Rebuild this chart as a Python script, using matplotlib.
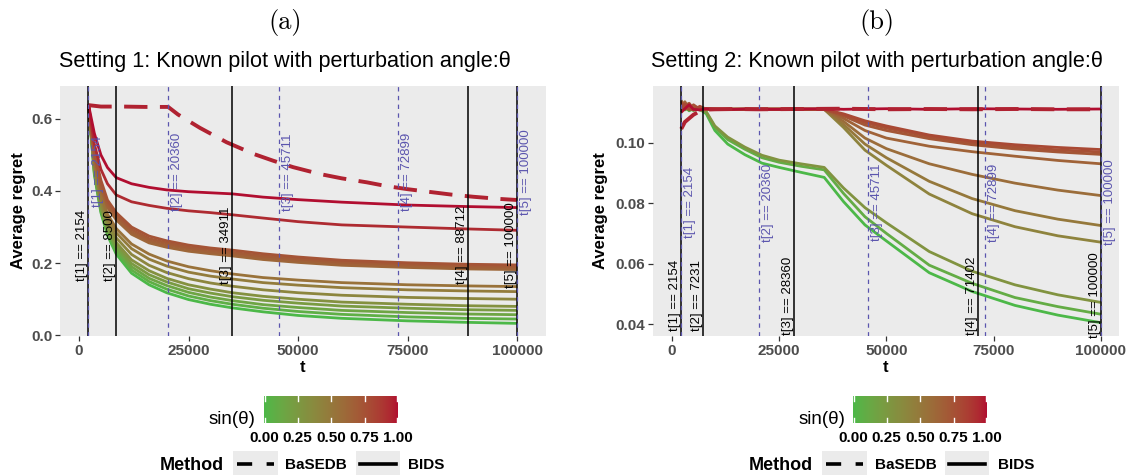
import numpy as np
import matplotlib
matplotlib.use("Agg")
import matplotlib.pyplot as plt
from matplotlib.colors import ListedColormap, to_rgb
from matplotlib.lines import Line2D
from matplotlib.patches import Rectangle

plt.rcParams['font.family'] = ['Liberation Sans', 'DejaVu Sans']

# ---------------- data ----------------
T_A = [2154, 3500, 5000, 6500, 8500, 12000, 16000, 20000, 25000, 30000, 35000,
       42000, 50000, 60000, 75000, 88000, 100000]
SIN_A = [0.00, 0.08, 0.16, 0.24, 0.32, 0.40, 0.48, 0.55, 0.62, 0.66, 0.70, 0.74, 0.93, 1.00]
BIDS_A = [
    [0.640, 0.445, 0.340, 0.277, 0.225, 0.172, 0.140, 0.118, 0.099, 0.086, 0.076, 0.065, 0.055, 0.047, 0.040, 0.036, 0.033],
    [0.640, 0.450, 0.345, 0.283, 0.233, 0.181, 0.149, 0.128, 0.109, 0.096, 0.086, 0.075, 0.066, 0.058, 0.051, 0.047, 0.045],
    [0.640, 0.455, 0.350, 0.290, 0.241, 0.190, 0.158, 0.138, 0.119, 0.106, 0.096, 0.085, 0.077, 0.069, 0.063, 0.059, 0.057],
    [0.640, 0.460, 0.355, 0.297, 0.249, 0.199, 0.168, 0.148, 0.129, 0.117, 0.107, 0.097, 0.089, 0.081, 0.075, 0.071, 0.069],
    [0.640, 0.465, 0.360, 0.304, 0.257, 0.209, 0.179, 0.158, 0.140, 0.128, 0.118, 0.108, 0.100, 0.092, 0.086, 0.082, 0.080],
    [0.640, 0.470, 0.370, 0.314, 0.270, 0.224, 0.194, 0.174, 0.157, 0.145, 0.136, 0.126, 0.118, 0.111, 0.105, 0.102, 0.100],
    [0.640, 0.475, 0.380, 0.325, 0.284, 0.240, 0.211, 0.192, 0.175, 0.164, 0.156, 0.146, 0.139, 0.132, 0.126, 0.123, 0.121],
    [0.640, 0.480, 0.390, 0.336, 0.296, 0.253, 0.225, 0.206, 0.190, 0.179, 0.170, 0.160, 0.153, 0.146, 0.140, 0.137, 0.135],
    [0.640, 0.495, 0.405, 0.354, 0.320, 0.280, 0.256, 0.244, 0.233, 0.226, 0.220, 0.210, 0.202, 0.194, 0.188, 0.184, 0.182],
    [0.640, 0.500, 0.412, 0.360, 0.326, 0.286, 0.262, 0.250, 0.239, 0.231, 0.225, 0.215, 0.207, 0.198, 0.192, 0.188, 0.186],
    [0.640, 0.505, 0.420, 0.368, 0.333, 0.293, 0.268, 0.256, 0.244, 0.237, 0.230, 0.220, 0.212, 0.203, 0.197, 0.193, 0.191],
    [0.640, 0.510, 0.430, 0.375, 0.340, 0.300, 0.275, 0.262, 0.250, 0.242, 0.236, 0.226, 0.217, 0.208, 0.201, 0.197, 0.195],
    [0.640, 0.530, 0.460, 0.420, 0.389, 0.370, 0.360, 0.352, 0.345, 0.340, 0.334, 0.325, 0.315, 0.306, 0.300, 0.295, 0.291],
    [0.640, 0.560, 0.500, 0.465, 0.437, 0.420, 0.410, 0.403, 0.398, 0.395, 0.392, 0.383, 0.376, 0.369, 0.361, 0.357, 0.354],
]
T_A_DASH = [2154, 5000, 10000, 15000, 20360, 22600, 27600, 33700, 39800, 44300, 48900,
            55000, 60000, 65700, 70000, 75000, 81000, 85000, 90000, 96000, 100000]
BASEDB_A = [0.638, 0.634, 0.634, 0.633, 0.633, 0.612, 0.575, 0.535, 0.503, 0.484, 0.466,
            0.447, 0.435, 0.424, 0.414, 0.405, 0.396, 0.390, 0.384, 0.378, 0.375]
SIN_A_DASH = 0.96

T_B = [2154, 3000, 4000, 5000, 6500, 8000, 10000, 13000, 17000, 21000, 25000, 30000,
       35500, 40000, 45000, 50000, 60000, 70000, 80000, 90000, 100000]
SIN_B = [0.00, 0.10, 0.30, 0.42, 0.50, 0.58, 0.65, 0.72, 0.76, 0.80, 1.00]
BIDS_B = [
    [0.1110, 0.1118, 0.1105, 0.1112, 0.1110, 0.1095, 0.1040, 0.0995, 0.0960, 0.0932, 0.0918, 0.0902, 0.0885, 0.0805, 0.0728, 0.0675, 0.0570, 0.0508, 0.0462, 0.0430, 0.0405],
    [0.1125, 0.1108, 0.1115, 0.1106, 0.1112, 0.1100, 0.1050, 0.1010, 0.0978, 0.0950, 0.0935, 0.0922, 0.0910, 0.0832, 0.0755, 0.0700, 0.0595, 0.0535, 0.0488, 0.0458, 0.0433],
    [0.1105, 0.1120, 0.1110, 0.1114, 0.1108, 0.1102, 0.1055, 0.1018, 0.0985, 0.0958, 0.0942, 0.0930, 0.0918, 0.0850, 0.0785, 0.0735, 0.0640, 0.0575, 0.0530, 0.0497, 0.0472],
    [0.1130, 0.1112, 0.1120, 0.1108, 0.1112, 0.1110, 0.1111, 0.1109, 0.1110, 0.1111, 0.1110, 0.1110, 0.1110, 0.1050, 0.0975, 0.0925, 0.0830, 0.0765, 0.0722, 0.0692, 0.0671],
    [0.1115, 0.1125, 0.1108, 0.1115, 0.1110, 0.1112, 0.1110, 0.1110, 0.1111, 0.1109, 0.1110, 0.1111, 0.1110, 0.1060, 0.0995, 0.0950, 0.0872, 0.0815, 0.0775, 0.0747, 0.0726],
    [0.1140, 0.1110, 0.1118, 0.1112, 0.1108, 0.1111, 0.1110, 0.1111, 0.1110, 0.1110, 0.1111, 0.1110, 0.1110, 0.1070, 0.1015, 0.0980, 0.0930, 0.0895, 0.0866, 0.0843, 0.0825],
    [0.1120, 0.1135, 0.1112, 0.1110, 0.1114, 0.1110, 0.1111, 0.1110, 0.1109, 0.1111, 0.1110, 0.1110, 0.1110, 0.1080, 0.1040, 0.1015, 0.0988, 0.0970, 0.0955, 0.0941, 0.0930],
    [0.1110, 0.1122, 0.1130, 0.1112, 0.1110, 0.1112, 0.1110, 0.1110, 0.1111, 0.1110, 0.1110, 0.1111, 0.1110, 0.1088, 0.1058, 0.1040, 0.1013, 0.0993, 0.0979, 0.0969, 0.0961],
    [0.1135, 0.1115, 0.1110, 0.1125, 0.1110, 0.1111, 0.1110, 0.1111, 0.1110, 0.1110, 0.1111, 0.1110, 0.1110, 0.1092, 0.1066, 0.1048, 0.1020, 0.0999, 0.0986, 0.0976, 0.0969],
    [0.1118, 0.1128, 0.1112, 0.1108, 0.1120, 0.1110, 0.1111, 0.1110, 0.1110, 0.1111, 0.1110, 0.1110, 0.1110, 0.1095, 0.1072, 0.1055, 0.1025, 0.1005, 0.0993, 0.0984, 0.0977],
    [0.1100, 0.1112, 0.1125, 0.1110, 0.1108, 0.1112, 0.1110, 0.1109, 0.1111, 0.1110, 0.1110, 0.1111, 0.1112, 0.1110, 0.1111, 0.1112, 0.1110, 0.1112, 0.1111, 0.1110, 0.1111],
]
T_B_DASH = [2154, 3000, 4000, 5000, 6000, 7000, 8000, 10000, 15000, 20000, 30000,
            40000, 50000, 60000, 70000, 80000, 90000, 100000]
BASEDB_B = [0.1045, 0.1068, 0.1080, 0.1092, 0.1100, 0.1106, 0.1109, 0.1110, 0.1111, 0.1110, 0.1111,
            0.1112, 0.1110, 0.1111, 0.1110, 0.1111, 0.1110, 0.1110]
SIN_B_DASH = 0.96

BIDS_T_A = [2154, 8500, 34911, 88712, 100000]
BASEDB_T_A = [2154, 20360, 45711, 72899, 100000]
BIDS_T_B = [2154, 7231, 28360, 71402, 100000]
BASEDB_T_B = [2154, 20360, 45711, 72899, 100000]

TITLES = ["Setting 1: Known pilot with perturbation angle:\u03b8",
          "Setting 2: Known pilot with perturbation angle:\u03b8"]
PANEL_TAGS = ["(a)", "(b)"]
XTICKS = [0, 25000, 50000, 75000, 100000]
YTICKS_A = [0.0, 0.2, 0.4, 0.6]
YTICKS_B = [0.04, 0.06, 0.08, 0.10]
CB_TICKS = [0.0, 0.25, 0.5, 0.75, 1.0]

# ---------------- colour scale (Lab interpolation like ggplot) ----------------
_M = np.array([[0.4124, 0.3576, 0.1805], [0.2126, 0.7152, 0.0722], [0.0193, 0.1192, 0.9505]])
_W = _M @ np.ones(3)

def _lin(c):
    c = np.asarray(c, float)
    return np.where(c <= 0.04045, c / 12.92, ((c + 0.055) / 1.055) ** 2.4)

def _delin(c):
    c = np.clip(c, 0, None)
    return np.where(c <= 0.0031308, 12.92 * c, 1.055 * c ** (1 / 2.4) - 0.055)

def _f(t):
    d = 6 / 29
    return np.where(t > d ** 3, np.cbrt(t), t / (3 * d * d) + 4 / 29)

def _finv(t):
    d = 6 / 29
    return np.where(t > d, t ** 3, 3 * d * d * (t - 4 / 29))

def rgb2lab(rgb):
    fx_, fy_, fz_ = _f((_M @ _lin(rgb)) / _W)
    return np.array([116 * fy_ - 16, 500 * (fx_ - fy_), 200 * (fy_ - fz_)])

def lab2rgb(lab):
    L, a, b = lab
    fy_ = (L + 16) / 116
    xyz = _W * _finv(np.array([fy_ + a / 500, fy_, fy_ - b / 200]))
    return np.clip(_delin(np.linalg.solve(_M, xyz)), 0, 1)

LOW, HIGH = rgb2lab(to_rgb('#4CB848')), rgb2lab(to_rgb('#B10E30'))
cmap = ListedColormap([lab2rgb((1 - s) * LOW + s * HIGH) for s in np.linspace(0, 1, 256)])

# ---------------- figure ----------------
W, H = 1130, 475
fig = plt.figure(figsize=(W / 100, H / 100), dpi=100)

def fx(x):
    return x / W

def fy(y):
    return 1 - y / H

BLUE = '#5B55AE'
TICK_GRAY = '#4D4D4D'

def make_panel(x0, x1, xlim, ylim, yticks, yfmt, T, sins, curves, Td, dvals, dsin,
               bids_t, base_t, ylab_black, ylab_blue, title, tag, title_cx, yl_x):
    ax = fig.add_axes([fx(x0), fy(336), fx(x1) - fx(x0), fy(86) - fy(336)])
    ax.set_facecolor('#EBEBEB')
    for s in ax.spines.values():
        s.set_visible(False)
    for s, vals in zip(sins, curves):
        ax.plot(T, vals, color=cmap(s), lw=2.0, solid_capstyle='butt', zorder=2)
    ax.plot(Td, dvals, color=cmap(dsin), lw=2.8, dashes=(6, 3.2), zorder=3)
    for i, t in enumerate(bids_t):
        ax.axvline(t, color='black', lw=1.1, zorder=4)
        ax.text(t, ylab_black, f"t[{i+1}] == {t}", rotation=90, ha='right', va='center',
                fontsize=9.5, color='black', zorder=5)
    for i, t in enumerate(base_t):
        ax.axvline(t, color=BLUE, lw=0.9, dashes=(3.5, 3.5), zorder=4)
        ax.text(t + 700, ylab_blue, f"t[{i+1}] == {t}", rotation=90, ha='left', va='center',
                fontsize=9.5, color=BLUE, zorder=5)
    ax.set_xlim(*xlim)
    ax.set_ylim(*ylim)
    ax.set_xticks(XTICKS)
    ax.set_xticklabels([str(v) for v in XTICKS])
    ax.set_yticks(yticks)
    ax.set_yticklabels([yfmt.format(v) for v in yticks])
    ax.tick_params(length=3.5, width=0.9, color='#333333', labelsize=11, labelcolor=TICK_GRAY, pad=2)
    for lab in ax.get_xticklabels() + ax.get_yticklabels():
        lab.set_fontweight('bold')
    cx = (x0 + x1) / 2
    fig.text(fx(cx), fy(368), "t", ha='center', va='center', fontsize=12, fontweight='bold')
    fig.text(fx(yl_x), fy(211), "Average regret", ha='center', va='center', rotation=90,
             fontsize=12, fontweight='bold')
    fig.text(fx(title_cx), fy(62), title, ha='center', va='center', fontsize=15.6)
    fig.text(fx(title_cx), fy(22), tag, ha='center', va='center', fontsize=19, family='cmr10')
    return ax

make_panel(60, 546, (-4338, 106620), (-0.002, 0.691), YTICKS_A, "{:.1f}", T_A, SIN_A, BIDS_A,
           T_A_DASH, BASEDB_A, SIN_A_DASH, BIDS_T_A, BASEDB_T_A, 0.25, 0.453,
           TITLES[0], PANEL_TAGS[0], 285, 19)
make_panel(653, 1119, (-4431, 104245), (0.0361, 0.1187), YTICKS_B, "{:.2f}", T_B, SIN_B, BIDS_B,
           T_B_DASH, BASEDB_B, SIN_B_DASH, BIDS_T_B, BASEDB_T_B, 0.0495, 0.0802,
           TITLES[1], PANEL_TAGS[1], 877, 600)

# ---------------- legends ----------------
def legends(cb_x0, cb_x1, sin_right, meth_x0, box1, base_x, box2, bids_x):
    cax = fig.add_axes([fx(cb_x0), fy(423), fx(cb_x1) - fx(cb_x0), fy(396) - fy(423)])
    cax.imshow(np.linspace(0, 1, 256)[None, :], cmap=cmap, aspect='auto', extent=[0, 1, 0, 1])
    for v in CB_TICKS:
        vv = min(max(v, 0.006), 0.994)
        cax.plot([vv, vv], [0, 0.2], color='white', lw=1.0)
        cax.plot([vv, vv], [0.8, 1], color='white', lw=1.0)
    cax.set_xlim(0, 1)
    cax.set_ylim(0, 1)
    cax.axis('off')
    for v in CB_TICKS:
        fig.text(fx(cb_x0 + v * (cb_x1 - cb_x0)), fy(438), f"{v:.2f}", ha='center', va='center',
                 fontsize=11, fontweight='bold')
    fig.text(fx(sin_right), fy(420), "sin(\u03b8)", ha='right', va='center', fontsize=13.5)
    fig.text(fx(meth_x0), fy(465), "Method", ha='left', va='center', fontsize=13, fontweight='bold')
    for (bx0, bx1), dashed in ((box1, True), (box2, False)):
        fig.add_artist(Rectangle((fx(bx0), fy(476)), fx(bx1) - fx(bx0), fy(451) - fy(476),
                                 transform=fig.transFigure, facecolor='#EBEBEB', edgecolor='none'))
        ln = Line2D([fx(bx0 + 4), fx(bx1 - 4)], [fy(463.5), fy(463.5)], transform=fig.transFigure,
                    color='black', lw=2.6)
        if dashed:
            ln.set_dashes((4.2, 4.0))
        fig.add_artist(ln)
    fig.text(fx(base_x), fy(465), "BaSEDB", ha='left', va='center', fontsize=11, fontweight='bold')
    fig.text(fx(bids_x), fy(465), "BIDS", ha='left', va='center', fontsize=11, fontweight='bold')

legends(264, 398, 255, 160, (233, 278), 285, (356, 400), 408)
legends(853, 987, 845, 749, (822, 867), 875, (945, 989), 998)

fig.savefig("out.png", dpi=100)
